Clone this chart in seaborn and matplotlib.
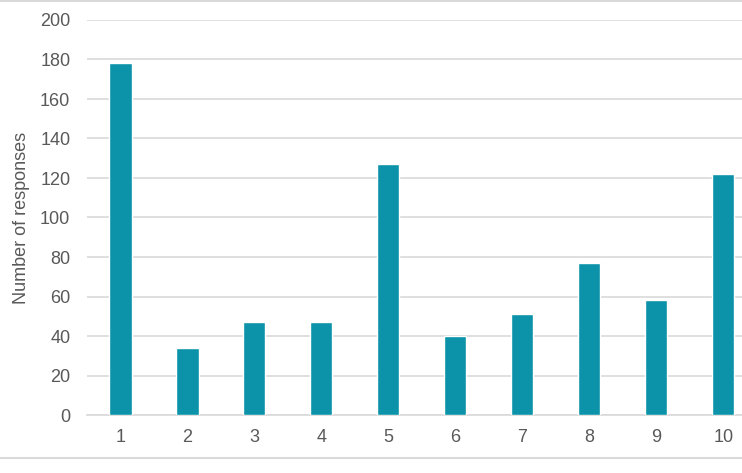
import matplotlib
matplotlib.use("Agg")
import matplotlib.pyplot as plt
import seaborn as sns
import pandas as pd
from matplotlib.lines import Line2D

# Waarden
categories = ["1", "2", "3", "4", "5", "6", "7", "8", "9", "10"]
responses = [178, 34, 47, 47, 127, 40, 51, 77, 58, 122]
y_ticks = [0, 20, 40, 60, 80, 100, 120, 140, 160, 180, 200]

sns.set_theme(style="white")
plt.rcParams["font.family"] = ["Liberation Sans", "DejaVu Sans"]

df = pd.DataFrame({"score": categories, "n": responses})

fig = plt.figure(figsize=(7.42, 4.73), dpi=100)
ax = fig.add_axes([87 / 742, 1 - 415 / 473, 1 - 87 / 742, (415 - 20) / 473])

sns.barplot(data=df, x="score", y="n", order=categories, color="#0C93AA",
            width=0.33, saturation=1, ax=ax, zorder=3)

ax.set_ylim(0, 200)
ax.set_xlim(-0.5, 9.28)
ax.set_yticks(y_ticks)
ax.grid(axis="y", color="#d9d9d9", linewidth=1.2, zorder=0)
ax.set_axisbelow(True)
for s in ["top", "right", "left"]:
    ax.spines[s].set_visible(False)
ax.spines["bottom"].set_color("#d9d9d9")
ax.spines["bottom"].set_linewidth(1.2)

ax.tick_params(axis="both", length=0, labelsize=13, labelcolor="#595959")
ax.tick_params(axis="y", pad=12)
ax.tick_params(axis="x", pad=10)
ax.set_xlabel("")
ax.set_ylabel("Number of responses", fontsize=13, color="#595959", labelpad=7)

# Grijze randlijnen van het grafiekkader
fig.add_artist(Line2D([0, 1], [1 - 1.5 / 473, 1 - 1.5 / 473], color="#d9d9d9", lw=1.5))
fig.add_artist(Line2D([0, 1], [1 - 458 / 473, 1 - 458 / 473], color="#d9d9d9", lw=1.5))

fig.savefig("out.png", dpi=100)
